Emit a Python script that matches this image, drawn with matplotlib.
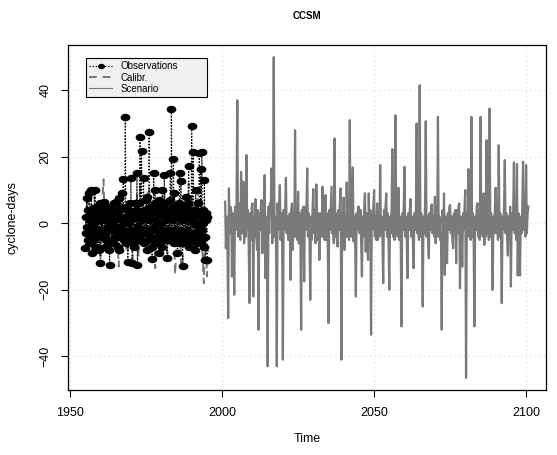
import numpy as np
import matplotlib
matplotlib.use("Agg")
from matplotlib import pyplot as plt
from matplotlib.path import Path
from matplotlib.transforms import Affine2D

plt.rcParams['font.family'] = ['Liberation Sans', 'DejaVu Sans']

# observed anomalies, 6 values per year, 1955-1995
obs_start = 1955
obs_vals = [
    -7.5, 2, -3, 7.5, -1, -5,     4, -3, 9, -6, 1, 3,
    10, -9, -2, 4.5, -5, 2,       0, 10, -4, 3, -7, 1,
    -2, 5, -3, -8, 2, 6,          -12, 1, -4, 5, -2, 3,
    6.3, -3, 2, -7, 1, -5,        2, -5, 4, -1, -8, 3,
    -12.5, 5, -2, 3, -6, 0,       3, -6, 6, -2, 1, -4,
    -1, 6.5, -4, 2, -7, 4,        7.5, -8, 2, -3, 5, -1,
    9, -3, 1, 13.2, -5, 0,        1, 31.9, -6, 2, -3, 5,
    -11.5, 4, 0, -4, 6, -2,       13.7, -4, 2, -12, 3, -6,
    2, -7, 6, -2, 4, -4,          15.2, -12.5, 3, -1, 6, -5,
    26, -5, 2, 21.8, 1, -3,       2, 13.5, -6, 4, -2, 7,
    -3, 8, -8, 2, -5, 1,          27.4, -2, 5, -4, 3, -7,
    -10.8, 4, -2, 15.2, -1, 6,    10, -6, 1, 3, -4, 5,
    -4, 7, -9, 0, 4, -3,          3, -7, 10, -2, 5, -5,
    14.5, -3, 6, -5, 1, 3,        -10.5, 2, -5, 4, -2, 7,
    15, -3, 34.4, -4, 1, 5,       19.2, -6, 9, -2, 3, -4,
    -3, 4, -9, 2, -6, 6,          15.2, -2, 3, 12.7, -4, 1,
    -12.7, 5, -6, 1, 4, -3,       8, -4, 3, -2, 6, -6,
    17.3, -7, 2, 4, -3, 1,        29.3, -5, 2, 21.3, 0, -4,
    4, -8, 10, -3, 3, -6,         -3, 6, -1, 21.2, 2, -5,
    16.2, -6, 21.5, -2, 4, 0,     -7, 13, -4, -11, 1, 3,
    2, -11,
]

# calibration run, 2 values per year, 1955-1995
cal_vals = [
    -4, 6,   10, -7,  3, -9,   8, -3,   -6, 4,   -10, 5,  13.2, -4, -6, 3,
    -9, 6,   2, -7,   5, -4,   -13, 6,  8, -5,   4, -8,   -9, 7,    5, -11,
    4, -6,   9, -10,  12, -4,  7, -6,   -5, 9,   11, -3,  -8, 5,    -13.5, 4,
    6, -7,   4, -8,   9, -5,   -9, 3,   7, -6,   10, -15.5, -8, 6,  3, -13,
    -12.7, 5, 6, -7,  12, -4,  8, -6,   5, -9,   10, -4,  7, -8,    -18, 3,
    -16, -8,
]

# scenario run, 4 values per year, 2001-2100
scen_start = 2001
scen_vals = [
    6.5, -7.5, 2, -5,    -28.5, 10.5, -3, 5,  4, -16, 3, -4,      -21.5, 5, -2, 6,
    37, -4, 6, -3,       -5, 15.5, -3, 4,     12.5, -6, 11, -4,   20.5, -2, 4, -6,
    -24, 3, -5, 5,       6, -22, 2, -4,       7.3, -4, -8, 4,     -32, 3, -2, 5,
    7, -9, 4, -5,        14.5, -16.5, 2, -4,  -43, 5, -3, 6,      3, 16.5, -6, 4,
    50, -4, 2, -6,       -43, 6, -2, 5,       11.5, -5, 3, -4,    -41, 4, -2, 5,
    13.7, -3, 2, -5,     -5, 3, -17, 4,       6, -8, 3, -4,       28, -4, 2, -5,
    9.5, -6, 3, -3,      -32, 4, -3, 5,       -17.5, 5, -2, 4,    16.5, -4, 3, -5,
    -23, 2, -5, 4,       10.3, -3, 4, -6,     11.7, -2, -5, 3,    -11, 3, 1, -4,
    11, -4, 2, -5,       8.5, -5, 3, -4,      -30, 4, -2, 5,      11, -3, 2, -6,
    25.5, -4, 3, -5,     -7, 4, -2, 6,        10.5, -41, 3, -3,   7.7, -8, 2, -4,
    12.3, -4, 3, -5,     31, -2, -4, 5,       16.8, -5.5, 2, -4,  -22, 3, -2, 5,
    5, -3, 4, -6,        -16, 2, -4, 5,       9, -8.5, 3, -4,     -11, 9, -3, 4,
    -33.5, 3, -2, 5,     10, -4, 2, -5,       6, -5, 3, -4,       17.5, -3, 2, -5,
    -18, 4, -2, 5,       9, -4, 3, -5,        -20, 2, -3, 4,      22.3, -4, 2, -5,
    32.5, -3, 4, -4,     10.7, -5, 2, -4,     -31, 3, -2, 5,      17, -4, 2, -5,
    -16.5, 3, -2, 4,     7.3, -4, 2, -5,      -13.5, 3, -2, 4,    30, -3, 2, -5,
    41.5, -4, 3, -4,     -25, 2, -3, 5,       30.7, -4, 2, -5,    -10.5, 3, -2, 5,
    5.7, -3, 2, -4,      8, -6, 3, -4,        32, -4, 2, -5,      -3, -32, 4, -4,
    9, -15.5, 2, -4,     -12, 3, -2, 5,       5.5, -3, 2, -5,     -7.5, 3, -2, 4,
    -12, 4, -3, 5,       6, -19.5, 2, -4,     -13, 3, -2, 5,      10, -46.5, 3, -4,
    16.3, -3, 2, -5,     32, -4, 3, -4,       -31, 2, -2, 5,      6, -4, 3, -5,
    32, -3, 2, -4,       9, -6.5, 3, -4,      25, -3, 2, -5,      34.5, -4, 3, -4,
    -20, 2, -3, 5,       10.7, -3, 2, -5,     23.5, -4, 3, -4,    -24, 2, -2, 5,
    19, -3, 3, -4,       -9.7, 2, -3, 5,      -19, 3, -2, 4,      18.3, -3, 2, -5,
    17.8, -15.7, 3, -4,  -15.7, 2, -3, 5,     18.5, -2, 3, -4,    17.5, -3, 3, 5,
]

obs_t = obs_start + np.arange(len(obs_vals)) / 6.0
cal_t = obs_start + np.arange(len(cal_vals)) / 2.0
scen_t = scen_start + np.arange(len(scen_vals)) / 4.0

# slightly flattened dot, like the R device
dot = Path.unit_circle().transformed(Affine2D().scale(1.0, 0.72))

fig = plt.figure(figsize=(5.57, 4.55), dpi=100)
ax = fig.add_axes([0.122, 0.143, 0.858, 0.758])

ax.plot(cal_t, cal_vals, color='#777777', lw=1.4, ls=(0, (4, 3)), label='Calibr.')
ax.plot(scen_t, scen_vals, color='#7a7a7a', lw=1.6, label='Scenario')
ax.plot(obs_t, obs_vals, color='black', lw=0.9, ls=(0, (1, 1.5)),
        marker=dot, ms=6, mfc='black', mec='black', label='Observations')

ax.set_xlim(1949.3, 2106.5)
ax.set_ylim(-50.1, 53.6)
ax.set_xticks([1950, 2000, 2050, 2100])
ax.set_yticks([-40, -20, 0, 20, 40])
ax.grid(True, color='#d8d8d8', ls=(0, (1, 3)), lw=0.8)
ax.set_axisbelow(True)
ax.tick_params(length=5, width=0.8, labelsize=9, pad=7)
ax.tick_params(axis='y', labelrotation=90)
for lab in ax.get_yticklabels():
    lab.set_va('center')
for s in ax.spines.values():
    s.set_linewidth(0.9)

ax.set_title('CCSM', fontsize=7, fontweight='bold', pad=19)
ax.set_xlabel('Time', fontsize=9)
ax.xaxis.set_label_coords(0.5, -0.125)
ax.set_ylabel('cyclone-days', fontsize=9)
ax.yaxis.set_label_coords(-0.103, 0.5)

h, l = ax.get_legend_handles_labels()
order = [2, 0, 1]
leg = ax.legend([h[i] for i in order], [l[i] for i in order],
                loc='upper left', bbox_to_anchor=(0.038, 0.85, 0.253, 0.111),
                mode='expand', borderaxespad=0, fontsize=7, fancybox=False,
                framealpha=1, facecolor='#f0f0f0', edgecolor='black',
                handlelength=2.4, labelspacing=0.12, borderpad=0.3,
                handletextpad=0.8)
leg.get_frame().set_linewidth(0.8)
leg.legend_handles[0].set_markersize(4)
leg.legend_handles[2].set_linewidth(0.8)

fig.savefig('out.png', dpi=100)
